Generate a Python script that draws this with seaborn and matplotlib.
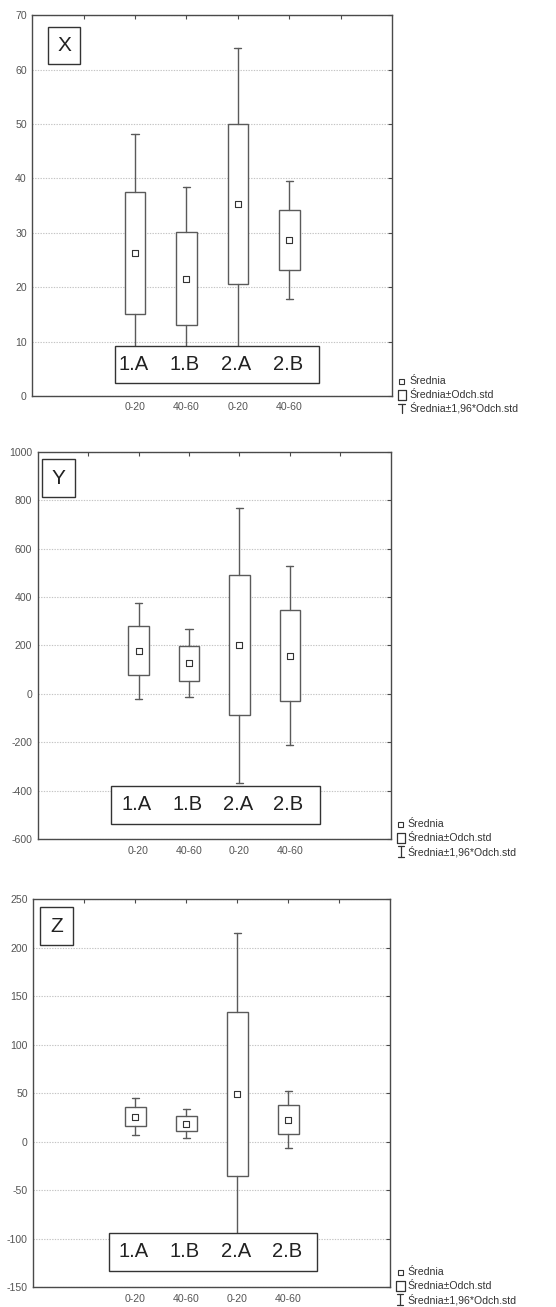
import numpy as np
import pandas as pd
import matplotlib
matplotlib.use("Agg")
import matplotlib.pyplot as plt
import matplotlib.transforms as mtrans
from matplotlib.patches import Rectangle
from matplotlib.lines import Line2D
import seaborn as sns

# ---------------- data ----------------
groups = ["1.A", "1.B", "2.A", "2.B"]
depth_labels = ["0-20", "40-60", "0-20", "40-60"]
panel_names = ["X", "Y", "Z"]

x_mean = [26.3, 21.6, 35.25, 28.7]
x_sd = [11.2, 8.6, 14.7, 5.5]

y_mean = [178.0, 127.0, 201.0, 158.0]
y_sd = [100.5, 72.0, 289.6, 188.0]

z_mean = [26.0, 18.7, 49.5, 22.8]
z_sd = [9.7, 7.7, 84.7, 15.1]

x_yticks = [0, 10, 20, 30, 40, 50, 60, 70]
y_yticks = [-600, -400, -200, 0, 200, 400, 600, 800, 1000]
z_yticks = [-150, -100, -50, 0, 50, 100, 150, 200, 250]

legend_labels = ["Średnia", "Średnia±Odch.std", "Średnia±1,96*Odch.std"]
whisker_factor = 1.96

# ---------------- style ----------------
sns.set_style("white")
plt.rcParams["font.family"] = ["Liberation Sans", "DejaVu Sans"]

W, H = 556, 1307
fig = plt.figure(figsize=(W / 100, H / 100), dpi=100)

# axes rectangles in pixels: left, top, right, bottom
axes_px = [
    (32.3, 15.3, 392.0, 396.0),
    (37.7, 451.7, 390.7, 839.3),
    (33.3, 899.3, 390.3, 1287.3),
]
letter_box = [  # axes fraction x0, x1, y0, y1
    (0.044, 0.133, 0.871, 0.968),
    (0.013, 0.106, 0.882, 0.980),
    (0.020, 0.110, 0.881, 0.979),
]
label_box = [
    (0.230, 0.797, 0.033, 0.131),
    (0.208, 0.799, 0.039, 0.138),
    (0.211, 0.795, 0.043, 0.141),
]
whisker_symbol = ["T", "I", "I"]

means_all = [x_mean, y_mean, z_mean]
sds_all = [x_sd, y_sd, z_sd]
yticks_all = [x_yticks, y_yticks, z_yticks]

line_col = "#4a4a4a"
box_col = "#5a5a5a"
text_col = "#555555"
positions = [2, 3, 4, 5]

for i in range(3):
    l, t, r, b = axes_px[i]
    ax = fig.add_axes([l / W, 1 - b / H, (r - l) / W, (b - t) / H])
    means = means_all[i]
    sds = sds_all[i]
    ticks = yticks_all[i]

    stats = []
    for g, m, s in zip(groups, means, sds):
        stats.append(dict(label=g, med=m, q1=m - s, q3=m + s,
                          whislo=m - whisker_factor * s,
                          whishi=m + whisker_factor * s, fliers=[]))
    ax.bxp(stats, positions=positions, widths=0.40, capwidths=0.14,
           showfliers=False, patch_artist=True, manage_ticks=False,
           boxprops=dict(facecolor="white", edgecolor=box_col, linewidth=1.0),
           whiskerprops=dict(color=box_col, linewidth=1.0),
           capprops=dict(color=box_col, linewidth=1.0),
           medianprops=dict(linewidth=0), zorder=3)

    df = pd.DataFrame({"pos": positions, "mean": means})
    sns.scatterplot(data=df, x="pos", y="mean", marker="s", s=17,
                    facecolor="white", edgecolor="#333333", linewidth=0.8,
                    zorder=5, ax=ax, legend=False)

    ax.set_xlim(0, 7)
    ax.set_ylim(ticks[0], ticks[-1])
    ax.set_yticks(ticks)
    ax.set_yticklabels([str(v) for v in ticks])
    ax.set_xticks([1, 2, 3, 4, 5, 6])
    ax.set_xticklabels([""] + depth_labels + [""])
    ax.set_xlabel("")
    ax.set_ylabel("")
    ax.tick_params(axis="both", direction="in", length=3, width=0.8,
                   color=line_col, labelsize=7.6, labelcolor=text_col,
                   top=True, right=True)
    ax.tick_params(axis="x", pad=4.5)
    ax.tick_params(axis="y", pad=4)
    for sp in ax.spines.values():
        sp.set_color(line_col)
        sp.set_linewidth(1.0)
        sp.set_visible(True)
    ax.yaxis.grid(True, color="#c4c4c4", linestyle=(0, (1.2, 1.2)), linewidth=0.8)
    ax.xaxis.grid(False)
    ax.set_axisbelow(True)

    # panel letter box
    x0, x1, y0, y1 = letter_box[i]
    ax.add_patch(Rectangle((x0, y0), x1 - x0, y1 - y0, transform=ax.transAxes,
                           facecolor="white", edgecolor="#333333", linewidth=1.0,
                           zorder=6))
    ax.text((x0 + x1) / 2, (y0 + y1) / 2, panel_names[i], transform=ax.transAxes,
            ha="center", va="center", fontsize=15, color="#222222", zorder=7)

    # group label box
    x0, x1, y0, y1 = label_box[i]
    ax.add_patch(Rectangle((x0, y0), x1 - x0, y1 - y0, transform=ax.transAxes,
                           facecolor="white", edgecolor="#333333", linewidth=1.0,
                           zorder=6))
    blend = mtrans.blended_transform_factory(ax.transData, ax.transAxes)
    for p, g in zip(positions, groups):
        ax.text(p - 0.03, (y0 + y1) / 2, g, transform=blend, ha="center",
                va="center", fontsize=14.5, color="#222222", zorder=7)

    # legend: offsets in pixels from the bottom-right axes corner
    pix = mtrans.Affine2D().scale(fig.dpi / 100) + \
        mtrans.ScaledTranslation(1, 0, ax.transAxes)

    def pline(xs, ys, lw=0.9):
        ax.add_line(Line2D(xs, ys, color="#333333", linewidth=lw,
                           clip_on=False, transform=pix))

    rows = [15.5, 1.0, -12.0]
    # mean symbol
    ax.add_line(Line2D([9.5], [rows[0]], transform=pix, marker="s",
                       markersize=3.6, markerfacecolor="white",
                       markeredgecolor="#333333", markeredgewidth=0.8,
                       linestyle="none", clip_on=False))
    # box symbol
    bx0, bx1, by0, by1 = 6, 14.5, rows[1] - 5, rows[1] + 5
    pline([bx0, bx1, bx1, bx0, bx0], [by0, by0, by1, by1, by0])
    # whisker symbol
    wx = 9.8
    if whisker_symbol[i] == "T":
        pline([wx, wx], [rows[2] - 5, rows[2] + 4.5])
        pline([wx - 3.5, wx + 3.5], [rows[2] + 4.5, rows[2] + 4.5])
    else:
        pline([wx, wx], [rows[2] - 5.5, rows[2] + 5])
        pline([wx - 3, wx + 3], [rows[2] + 5, rows[2] + 5])
        pline([wx - 3, wx + 3], [rows[2] - 5.5, rows[2] - 5.5])
    for rr, lab in zip(rows, legend_labels):
        ax.text(17.0, rr, lab, transform=pix, ha="left", va="center",
                fontsize=7.6, color="#333333", clip_on=False)

fig.savefig("out.png", dpi=100, facecolor="white")
